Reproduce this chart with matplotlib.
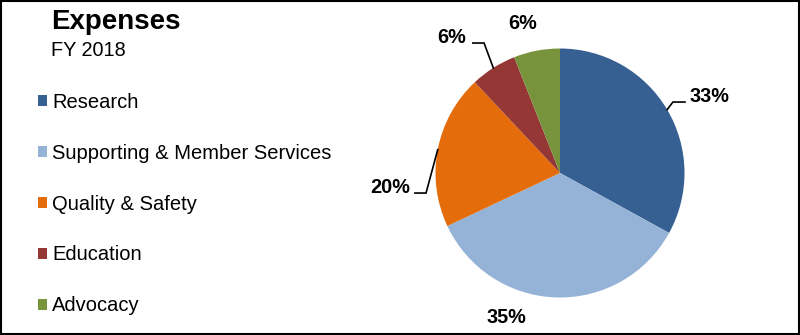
import matplotlib
matplotlib.use("Agg")
import matplotlib.pyplot as plt
from matplotlib.patches import Rectangle
import numpy as np

plt.rcParams['font.family'] = ['Liberation Sans', 'DejaVu Sans']

categories = ["Research", "Supporting & Member Services", "Quality & Safety", "Education", "Advocacy"]
values = [33, 35, 20, 6, 6]
labels = ["33%", "35%", "20%", "6%", "6%"]
colors = ["#376092", "#95B3D7", "#E46C0A", "#953735", "#77933C"]

W, H = 800, 335
fig = plt.figure(figsize=(W / 100, H / 100), dpi=100)

# pie axes: center (560,173) px, radius ~124.5 px
cx, cy, r = 560, 173, 124.5
ax = fig.add_axes([(cx - r) / W, (H - cy - r) / H, 2 * r / W, 2 * r / H])
wedges, _ = ax.pie(values, colors=colors, startangle=90, counterclock=False,
                   wedgeprops=dict(linewidth=0))
ax.set_xlim(-1, 1)
ax.set_ylim(-1, 1)
ax.set_aspect('equal')
ax.axis('off')

# label layout (text pos, ha, elbow, line end) in pie units
layout = [
    dict(text=(1.044, 0.570), ha='left', elbow=(0.907, 0.570), end=(1.004, 0.570)),
    dict(text=(-0.434, -1.205), ha='center', elbow=None, end=None),
    dict(text=(-1.205, -0.161), ha='right', elbow=(-1.076, -0.161), end=(-1.165, -0.161)),
    dict(text=(-0.755, 1.044), ha='right', elbow=(-0.61, 1.044), end=(-0.70, 1.044)),
    dict(text=(-0.297, 1.157), ha='center', elbow=None, end=None),
]
for w, lab, lay in zip(wedges, labels, layout):
    ax.text(*lay['text'], lab, ha=lay['ha'], va='baseline', fontsize=14.3,
            fontweight='bold', color='black', clip_on=False)
    if lay['elbow'] is not None:
        mid = np.deg2rad((w.theta1 + w.theta2) / 2)
        p0 = (np.cos(mid), np.sin(mid))
        xs = [p0[0], lay['elbow'][0], lay['end'][0]]
        ys = [p0[1], lay['elbow'][1], lay['end'][1]]
        ax.plot(xs, ys, color='black', lw=1.2, clip_on=False, solid_joinstyle='miter')

# title
fig.text(51 / W, 1 - 29 / H, "Expenses", fontsize=20, fontweight='bold',
         ha='left', va='baseline')
fig.text(51 / W, 1 - 56 / H, "FY 2018", fontsize=14.3, ha='left', va='baseline')

# legend
leg = fig.legend(wedges, categories, loc='upper left',
                 bbox_to_anchor=(38 / W, 1 - 93 / H), frameon=False,
                 fontsize=14.5, handlelength=0.45, handleheight=0.45,
                 handletextpad=0.25, labelspacing=1.58, borderpad=0,
                 borderaxespad=0)

# frame
fig.patches.append(Rectangle((1 / W, 1 / H), 1 - 2 / W, 1 - 2 / H,
                             transform=fig.transFigure, fill=False,
                             edgecolor='black', linewidth=1.5, zorder=10))

fig.savefig("out.png", dpi=100)
